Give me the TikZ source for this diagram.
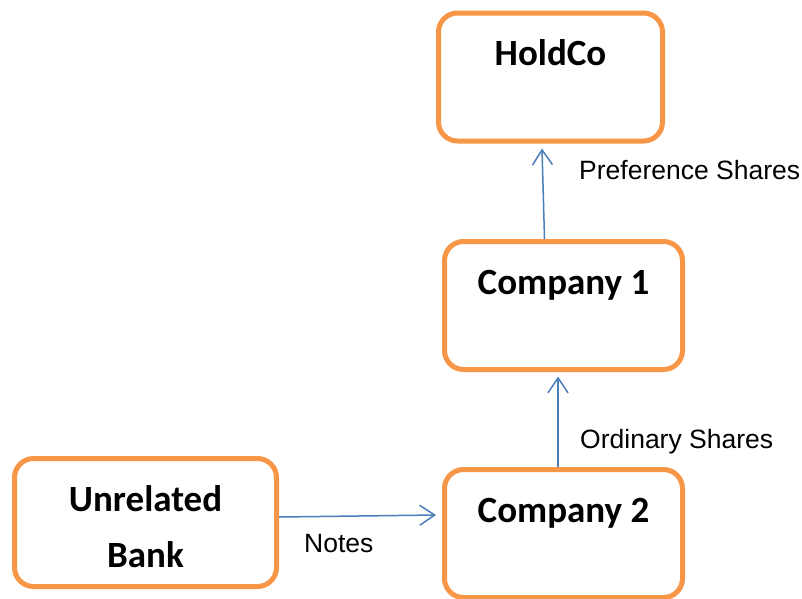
\documentclass[tikz,border=0pt]{standalone}
\usepackage{fontspec}
\usepackage{xcolor}
\usepackage{tikz}
\usetikzlibrary{arrows.meta}

\newfontfamily\entityfont{Carlito}
\newfontfamily\flowfont{Liberation Sans}
\definecolor{boxorange}{HTML}{F79646}
\definecolor{flowblue}{HTML}{4A7EBB}

\begin{document}
\begin{tikzpicture}[x=1pt, y=1pt,
    entity/.style={draw=boxorange, line width=5pt, rounded corners=19pt,
      fill=white, inner xsep=0pt, inner ysep=0pt,
      text height=52.5pt, text depth=75.5pt, align=center,
      font=\entityfont\bfseries\fontsize{37}{56}\selectfont},
    flow/.style={draw=flowblue, line width=1.5pt,
      -{Straight Barb[length=15pt, width=20pt, line width=1.5pt]}},
    flowlabel/.style={anchor=base west, inner sep=0pt,
      font=\flowfont\fontsize{26.5}{30}\selectfont}]
  \useasboundingbox (0,0) rectangle (802,-598);

  \node[entity, minimum width=224pt] (holdco) at (550.5,-77) {HoldCo};
  \node[entity, minimum width=238pt] (comp1) at (563.5,-305.5) {Company 1};
  \node[entity, minimum width=238pt] (comp2) at (563.5,-533.5) {Company 2};
  % two lines: the base sits on the last line
  \node[entity, minimum width=262pt, text height=108.5pt, text depth=19.5pt]
    (bank) at (145.5,-522.5) {Unrelated\\Bank};

  \draw[flow] ([xshift=-19pt]comp1.north) -- ([xshift=-8.5pt, yshift=-5pt]holdco.south);
  \draw[flow] ([xshift=-5.5pt]comp2.north) -- ([xshift=-5.5pt, yshift=-4.5pt]comp1.south);
  \draw[flow] ([yshift=5.5pt]bank.east) -- ([xshift=-6pt, yshift=18.5pt]comp2.west);

  \node[flowlabel] (pref) at (579,-179) {Preference Shares};
  \node[flowlabel] (ord) at (580,-448) {Ordinary Shares};
  \node[flowlabel] (notes) at (304,-552) {Notes};
\end{tikzpicture}
\end{document}
